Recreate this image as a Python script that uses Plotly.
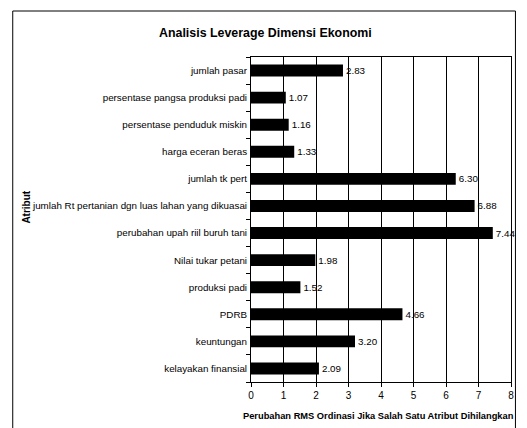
import plotly.graph_objects as go

categories = [
    "jumlah pasar",
    "persentase pangsa produksi padi",
    "persentase penduduk miskin",
    "harga eceran beras",
    "jumlah tk pert",
    "jumlah Rt pertanian dgn luas lahan yang dikuasai",
    "perubahan upah riil buruh tani",
    "Nilai tukar petani",
    "produksi padi",
    "PDRB",
    "keuntungan",
    "kelayakan finansial",
]
values = [2.83, 1.07, 1.16, 1.33, 6.30, 6.88, 7.44, 1.98, 1.52, 4.66, 3.20, 2.09]
x_ticks = [0, 1, 2, 3, 4, 5, 6, 7, 8]

# page body has an 8px margin; figure coordinates are page coordinates minus 8
OFF = 8
W, H = 527 - 2 * OFF, 428 - OFF
L = 251 - OFF
T = 57 - OFF
R = W - (514 - OFF)
B = H - (382 - OFF)
pw, ph = W - L - R, H - T - B

def px_x(page_x):
    return (page_x - OFF - L) / pw

def px_y(page_y):
    return (H - B - (page_y - OFF)) / ph

FONT = "Liberation Sans, Arial, sans-serif"

fig = go.Figure(go.Bar(
    y=categories,
    x=values,
    orientation="h",
    marker=dict(color="black", line=dict(width=0)),
    text=[f"{v:.2f}" for v in values],
    textposition="outside",
    textfont=dict(family=FONT, size=9.8, color="black"),
    cliponaxis=False,
    width=0.44,
))

fig.update_layout(
    width=W, height=H,
    margin=dict(l=L, r=R, t=T, b=B),
    paper_bgcolor="white",
    plot_bgcolor="white",
    showlegend=False,
    font=dict(family=FONT, size=9.8, color="black"),
    xaxis=dict(
        range=[0, 8],
        tickvals=x_ticks,
        ticktext=[str(t) for t in x_ticks],
        showgrid=True, gridcolor="black", gridwidth=1,
        showline=True, linecolor="black", linewidth=1,
        mirror=True,
        ticks="outside", ticklen=4, tickcolor="black",
        zeroline=False,
        tickfont=dict(size=10),
    ),
    yaxis=dict(
        categoryorder="array",
        categoryarray=categories[::-1],
        showline=True, linecolor="black", linewidth=1,
        mirror=True,
        ticks="outside", ticklen=4, tickcolor="black",
        tickson="boundaries",
        showgrid=False,
        tickfont=dict(size=9.8),
        ticklabelstandoff=1,
    ),
    shapes=[
        dict(type="rect", xref="paper", yref="paper",
             x0=px_x(10), x1=px_x(518.5), y0=px_y(440), y1=px_y(11),
             line=dict(color="black", width=1), fillcolor="rgba(0,0,0,0)",
             layer="below"),
    ],
    annotations=[
        dict(text="<b>Analisis Leverage Dimensi Ekonomi</b>", xref="paper", yref="paper",
             x=px_x(266), y=px_y(33), showarrow=False, font=dict(size=12.4),
             xanchor="center", yanchor="middle"),
        dict(text="<b>Perubahan RMS Ordinasi Jika Salah Satu Atribut Dihilangkan</b>",
             xref="paper", yref="paper", x=px_x(380), y=px_y(416), showarrow=False,
             font=dict(size=9.3), xanchor="center", yanchor="middle"),
        dict(text="<b>Atribut</b>", xref="paper", yref="paper", x=px_x(23), y=px_y(207),
             showarrow=False, font=dict(size=10), textangle=-90,
             xanchor="center", yanchor="middle"),
    ],
)

fig.write_html("out.html")
